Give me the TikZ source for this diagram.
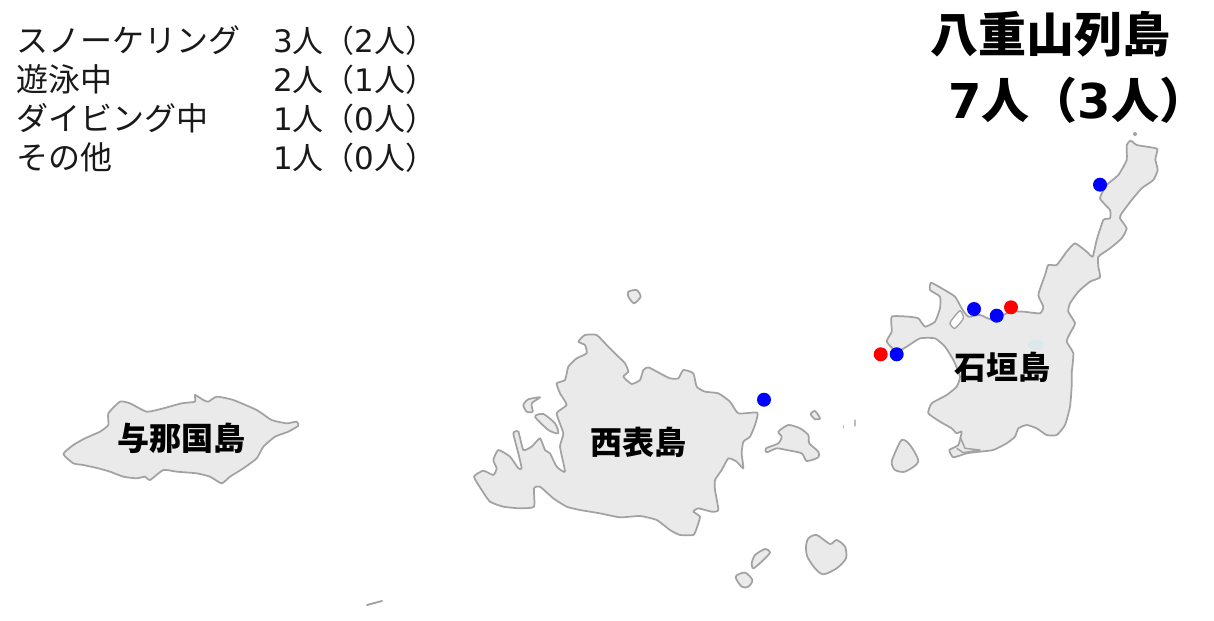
\documentclass[tikz,border=0pt]{standalone}
\usepackage{fontspec}
\setmainfont{Noto Sans CJK JP}
\newfontfamily\dgfont{DejaVu Sans}
\begin{document}
\begin{tikzpicture}[x=0.75pt,y=-0.75pt,
  land/.style={draw=coast,fill=landfill,line width=1.3pt,line join=round},
  lagoon/.style={draw=coast,fill=white,line width=1pt,line join=round},
  speck/.style={draw=coast!70,line width=0.8pt,line cap=round},
  bluedot/.style={fill=dotblue,draw=none},
  reddot/.style={fill=dotred,draw=none},
  legend/.style={anchor=base west,inner sep=0pt,font=\fontsize{24pt}{24pt}\selectfont,text=black!90},
  legendval/.style={anchor=base west,inner sep=0pt,font=\fontsize{23.2pt}{23.2pt}\selectfont,text=black!90},
  title/.style={anchor=base west,inner sep=0pt,font=\bfseries\fontsize{36pt}{36pt}\selectfont,text=black},
  island/.style={anchor=center,inner sep=0pt,font=\bfseries\fontsize{24pt}{24pt}\selectfont,text=black}]
\definecolor{coast}{HTML}{A2A2A2}
\definecolor{landfill}{HTML}{EAEAEA}
\definecolor{dotblue}{RGB}{0,0,255}
\definecolor{dotred}{RGB}{255,0,0}
\useasboundingbox (0,0) rectangle (1214,621);
\fill[white] (0,0) rectangle (1214,621);

% Ishigaki
\begin{scope}[shift={(860,120)},x=0.25pt,y=-0.25pt]
\draw[land] plot[smooth cycle,tension=0.3] coordinates {
(812,62)(830,75)(860,80)(892,87)(886,118)(893,150)(880,180)(845,205)(815,240)(785,280)(780,295)(800,325)(785,355)(750,385)(715,410)(715,440)(720,472)(690,485)(655,515)(630,550)(625,575)(645,610)(630,640)(620,665)(640,700)(635,760)(635,800)(630,860)(615,915)(590,945)(560,945)(530,925)(500,915)(475,925)(465,950)(440,970)(400,990)(360,995)(320,1000)(280,1012)(268,990)(295,975)(305,935)(290,940)(275,925)(240,905)(205,880)(215,850)(260,825)(290,800)(300,770)(280,720)(255,680)(225,655)(180,655)(140,680)(110,695)(80,665)(95,635)(95,590)(145,590)(175,595)(195,620)(225,605)(240,565)(240,530)(210,510)(213,488)(245,505)(285,530)(305,565)(325,590)(360,585)(400,600)(450,575)(490,575)(540,580)(550,560)(535,525)(555,465)(565,435)(590,435)(620,395)(645,370)(680,395)(698,410)(710,360)(730,300)(750,295)(750,270)(720,235)(740,195)(775,165)(800,120)(800,75)};
\draw[lagoon] plot[smooth cycle,tension=0.4] coordinates {(275,600)(300,572)(310,595)(285,625)(270,612)};
\fill[cyan!7!landfill] (527,675) ellipse (24 and 16);
% harbour detail
\draw[coast,line width=1.1pt,line join=round] (300,950) -- (315,985) -- (360,990) -- (310,998) -- (290,985);
% Taketomi
\draw[land] plot[smooth cycle,tension=0.45] coordinates {(100,1010)(125,960)(150,975)(175,1025)(135,1055)(105,1050)(95,1030)};
% tiny rock north
\fill[coast] (825,42) circle (6);
\end{scope}

% Iriomote and neighbours
\begin{scope}[shift={(460,280)},x=0.25pt,y=-0.25pt]
\draw[land] plot[smooth cycle,tension=0.3] coordinates {
(355,185)(375,165)(410,165)(440,195)(470,225)(495,250)(505,275)(490,290)(515,312)(540,300)(550,270)(565,262)(600,280)(630,295)(655,295)(670,270)(700,280)(710,320)(735,335)(775,340)(810,365)(835,400)(892,398)(885,435)(870,470)(850,485)(845,520)(850,565)(830,545)(805,535)(785,570)(765,600)(765,630)(775,690)(755,695)(715,685)(700,695)(720,710)(710,745)(700,765)(660,765)(630,750)(590,720)(540,708)(480,712)(420,700)(360,690)(320,680)(280,655)(240,620)(222,625)(222,680)(180,685)(130,680)(90,665)(65,630)(42,590)(70,572)(100,585)(110,565)(100,540)(115,510)(150,530)(175,565)(185,565)(175,520)(160,460)(175,455)(190,510)(215,500)(240,475)(255,510)(270,520)(290,560)(315,575)(300,500)(310,460)(290,400)(320,375)(300,340)(290,310)(315,300)(325,260)(350,235)(380,220)(375,195)};
\draw[land] plot[smooth cycle,tension=0.4] coordinates {(505,35)(530,30)(542,50)(522,70)(505,50)};
\draw[land] plot[smooth cycle,tension=0.4] coordinates {(190,375)(205,358)(240,352)(215,370)(218,395)(200,395)};
\draw[land] plot[smooth cycle,tension=0.4] coordinates {(225,410)(250,402)(285,430)(295,460)(265,450)};
\end{scope}

\begin{scope}[shift={(720,400)},x=0.25pt,y=-0.25pt]
\draw[land] plot[smooth cycle,tension=0.4] coordinates {(175,95)(205,75)(240,85)(265,105)(268,130)(295,155)(295,172)(260,183)(245,160)(200,150)(170,145)(140,157)(138,145)(175,130)(185,110)};
\draw[land] plot[smooth cycle,tension=0.4] coordinates {(272,42)(285,33)(300,55)(285,58)};
\draw[land] plot[smooth cycle,tension=0.45] coordinates {(258,440)(265,415)(290,405)(330,432)(350,420)(375,440)(378,475)(350,505)(310,523)(285,505)(262,470)};
\draw[land] plot[smooth cycle,tension=0.4] coordinates {(95,490)(105,465)(135,447)(150,458)(125,485)(100,505)};
\draw[land] plot[smooth cycle,tension=0.5] coordinates {(47,530)(75,518)(97,540)(85,560)(65,560)};
\draw[speck] (405,60) -- (405,78);
\draw[speck] (370,76) -- (370,84);
\end{scope}

% Yonaguni
\begin{scope}[shift={(50,380)},x=0.25pt,y=-0.25pt]
\draw[land] plot[smooth cycle,tension=0.3] coordinates {
(40,222)(70,195)(105,175)(150,155)(175,135)(175,100)(210,65)(240,70)(290,95)(340,85)(395,70)(435,65)(435,45)(460,60)(475,65)(500,50)(550,60)(620,90)(665,120)(710,130)(740,125)(745,137)(715,155)(675,170)(640,200)(620,235)(580,265)(540,290)(515,310)(480,290)(440,280)(380,275)(340,270)(300,300)(285,290)(260,295)(220,290)(180,275)(145,265)(100,255)(70,250)};
\end{scope}

% far south-west rock
\draw[coast,line width=1.4pt,line cap=round] (367,605) -- (382,601);

% Dots
\fill[bluedot] (1100,184.7) circle (7);
\fill[bluedot] (974,309) circle (7);
\fill[bluedot] (996.7,315.7) circle (7);
\fill[reddot] (1011,307.3) circle (7);
\fill[reddot] (880.7,354.3) circle (7);
\fill[bluedot] (896.7,354.3) circle (7);
\fill[bluedot] (764,399.7) circle (7);

% Legend
\node[legend] (l1) at (16,52) {スノーケリング};
\node[legendval] (v1) at (273,52) {{\dgfont 3}人（{\dgfont 2}人）};
\node[legend] (l2) at (16,91) {遊泳中};
\node[legendval] (v2) at (273,91) {{\dgfont 2}人（{\dgfont 1}人）};
\node[legend] (l3) at (16,130) {ダイビング中};
\node[legendval] (v3) at (273,130) {{\dgfont 1}人（{\dgfont 0}人）};
\node[legend] (l4) at (16,169) {その他};
\node[legendval] (v4) at (273,169) {{\dgfont 1}人（{\dgfont 0}人）};

% Title
\node[title] (t1) at (930,52) {八重山列島};
\node[title] (t2) at (948,118) {{\dgfont 7}人（{\dgfont 3}人）};

% Island names
\node[island] (yonaguni) at (181,438) {与那国島};
\node[island] (iriomote) at (638,442) {西表島};
\node[island] (ishigaki) at (1002,367) {石垣島};
\end{tikzpicture}
\end{document}
